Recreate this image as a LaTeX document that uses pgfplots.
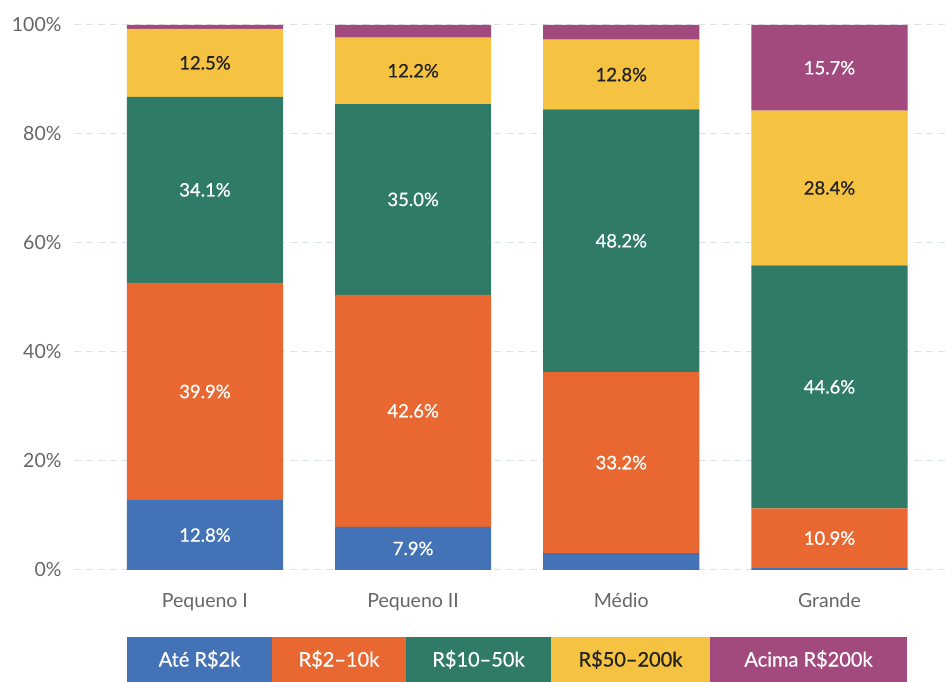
\documentclass[border=0pt]{standalone}
\usepackage{fontspec}
\setmainfont{Lato}
\newfontfamily\medfont{Lato}[FakeBold=0.6]
\usepackage{pgfplots}
\usepackage{pgfplotstable}
\pgfplotsset{compat=1.18}
\definecolor{cA}{HTML}{4472B7}
\definecolor{cB}{HTML}{E96730}
\definecolor{cC}{HTML}{2F7B68}
\definecolor{cD}{HTML}{F5C241}
\definecolor{cE}{HTML}{A24A7E}
\definecolor{gridc}{HTML}{DCE2EA}
\definecolor{tickc}{HTML}{666666}
\definecolor{darktext}{HTML}{222222}
\pgfplotstableread{
x a b c d e
0 12.8 39.9 34.1 12.5 0.7
1 7.9 42.6 35.0 12.2 2.3
2 3.1 33.2 48.2 12.8 2.7
3 0.4 10.9 44.6 28.4 15.7
}\data
\newcommand{\lbl}{\ifdim\rawv pt<5pt\relax\else\pgfmathprintnumber[fixed,fixed zerofill,precision=1]{\rawv}\%\fi}
\begin{document}
\begin{tikzpicture}
\useasboundingbox (0,0) rectangle (945pt,682pt);
\begin{axis}[
  at={(74pt,112pt)}, anchor=south west,
  scale only axis, width=871pt, height=545pt,
  ybar stacked, bar width=0.75,
  xmin=-0.629, xmax=3.555, ymin=0, ymax=100,
  xtick={0,1,2,3}, xticklabels={Pequeno I, Pequeno II, Médio, Grande},
  ytick={0,20,...,100}, yticklabel={\pgfmathprintnumber{\tick}\%},
  axis line style={draw=none}, major tick length=0,
  ymajorgrids, grid style={dash pattern=on 7pt off 5pt, color=gridc, line width=1pt},
  tick label style={font=\fontsize{19.5}{22}\selectfont, text=tickc},
  yticklabel style={xshift=-9pt},
  xticklabel style={yshift=-20pt},
  /pgf/number format/assume math mode=true,
  nodes near coords={\lbl},
  every node near coord/.append style={anchor=center, font=\medfont\fontsize{18.5}{22}\selectfont, text=white},
]
\addplot[fill=cA, draw=none, visualization depends on={\thisrow{a} \as \rawv}] table[x=x,y=a]{\data};
\addplot[fill=cB, draw=none, visualization depends on={\thisrow{b} \as \rawv}] table[x=x,y=b]{\data};
\addplot[fill=cC, draw=none, visualization depends on={\thisrow{c} \as \rawv}] table[x=x,y=c]{\data};
\addplot[fill=cD, draw=none, visualization depends on={\thisrow{d} \as \rawv}, every node near coord/.append style={text=darktext}] table[x=x,y=d]{\data};
\addplot[fill=cE, draw=none, visualization depends on={\thisrow{e} \as \rawv}] table[x=x,y=e]{\data};
\end{axis}
\begin{scope}[every node/.style={font=\medfont\fontsize{20}{22}\selectfont, anchor=center}]
\fill[cA] (127pt,0pt) rectangle (272pt,45pt);
\node[text=white] at (199.5pt,22.5pt) {Até R\$2k};
\fill[cB] (272pt,0pt) rectangle (406pt,45pt);
\node[text=white] at (339pt,22.5pt) {R\$2\textendash10k};
\fill[cC] (406pt,0pt) rectangle (551pt,45pt);
\node[text=white] at (478.5pt,22.5pt) {R\$10\textendash50k};
\fill[cD] (551pt,0pt) rectangle (710pt,45pt);
\node[text=darktext] at (630.5pt,22.5pt) {R\$50\textendash200k};
\fill[cE] (710pt,0pt) rectangle (907pt,45pt);
\node[text=white] at (808.5pt,22.5pt) {Acima R\$200k};
\end{scope}
\end{tikzpicture}
\end{document}
